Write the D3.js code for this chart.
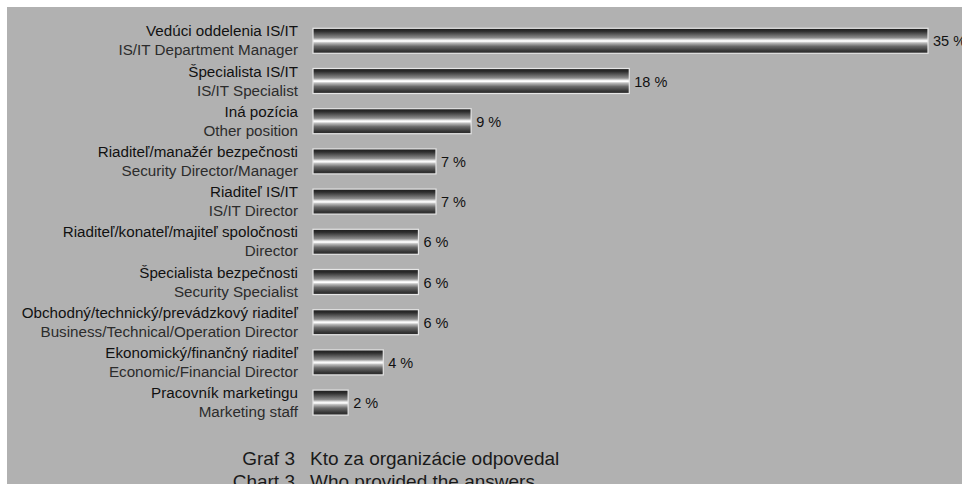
<!DOCTYPE html>
<html>
<head>
<meta charset="utf-8">
<script src="https://cdn.jsdelivr.net/npm/d3@7"></script>
<style>
  html, body { margin: 0; padding: 0; background: #ffffff; }
  svg { display: block; }
  text { font-family: "Liberation Sans", Arial, Helvetica, sans-serif; }
</style>
</head>
<body>
<script>
// Respondent positions (Slovak / English) and their share in percent
const labelsSk = [
  "Vedúci oddelenia IS/IT",
  "Špecialista IS/IT",
  "Iná pozícia",
  "Riaditeľ/manažér bezpečnosti",
  "Riaditeľ IS/IT",
  "Riaditeľ/konateľ/majiteľ spoločnosti",
  "Špecialista bezpečnosti",
  "Obchodný/technický/prevádzkový riaditeľ",
  "Ekonomický/finančný riaditeľ",
  "Pracovník marketingu"
];
const labelsEn = [
  "IS/IT Department Manager",
  "IS/IT Specialist",
  "Other position",
  "Security Director/Manager",
  "IS/IT Director",
  "Director",
  "Security Specialist",
  "Business/Technical/Operation Director",
  "Economic/Financial Director",
  "Marketing staff"
];
const shares = [35, 18, 9, 7, 7, 6, 6, 6, 4, 2];
const captionSk = ["Graf 3", "Kto za organizácie odpovedal"];
const captionEn = ["Chart 3", "Who provided the answers"];

const W = 962, H = 484;
const svg = d3.select("body").append("svg").attr("width", W).attr("height", H);

// grey panel
svg.append("rect").attr("x", 7).attr("y", 7).attr("width", W - 7).attr("height", H - 7)
  .attr("fill", "#b1b1b1");

// metallic tube gradient for bars
const defs = svg.append("defs");
const grad = defs.append("linearGradient").attr("id", "tube")
  .attr("x1", 0).attr("y1", 0).attr("x2", 0).attr("y2", 1);
[
  [0, "#1c1c1c"], [0.12, "#2e2e2e"], [0.38, "#8c8c8c"], [0.48, "#f4f4f4"],
  [0.52, "#ffffff"], [0.58, "#bdbdbd"], [0.72, "#6a6a6a"], [0.9, "#353535"], [1, "#2a2a2a"]
].forEach(([o, c]) => grad.append("stop").attr("offset", o).attr("stop-color", c));

const idx = d3.range(shares.length);
const y = d3.scaleBand().domain(idx).range([20.7, 422.7]).paddingInner(0.378).paddingOuter(0.189);
const x = d3.scaleLinear().domain([0, 35]).range([313, 928]);

const rows = svg.append("g").selectAll("g").data(idx).join("g");

rows.append("rect")
  .attr("x", x(0))
  .attr("y", i => y(i))
  .attr("width", i => x(shares[i]) - x(0))
  .attr("height", y.bandwidth())
  .attr("fill", "url(#tube)")
  .attr("stroke", "#e6e6e6")
  .attr("stroke-width", 1.2);

rows.append("text")
  .attr("x", i => x(shares[i]) + 5)
  .attr("y", i => y(i) + y.bandwidth() / 2 + 5.5)
  .attr("font-size", 14.5)
  .attr("fill", "#111")
  .text(i => shares[i] + " %");

rows.append("text")
  .attr("x", 298)
  .attr("y", i => y(i) + y.bandwidth() / 2 - 4.5)
  .attr("text-anchor", "end")
  .attr("font-size", 15.2)
  .attr("fill", "#111")
  .text(i => labelsSk[i]);

rows.append("text")
  .attr("x", 298)
  .attr("y", i => y(i) + y.bandwidth() / 2 + 14.5)
  .attr("text-anchor", "end")
  .attr("font-size", 15.2)
  .attr("fill", "#2c2c2c")
  .text(i => labelsEn[i]);

// caption
const cap = svg.append("g").attr("font-size", 19).attr("fill", "#1a1a1a");
[[captionSk, 465], [captionEn, 488]].forEach(([c, by]) => {
  cap.append("text").attr("x", 295).attr("y", by).attr("text-anchor", "end").text(c[0]);
  cap.append("text").attr("x", 310).attr("y", by).text(c[1]);
});
</script>
</body>
</html>
